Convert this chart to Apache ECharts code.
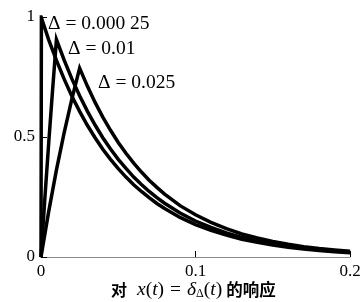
<!DOCTYPE html>
<html><head><meta charset="utf-8">
<script src="https://cdn.jsdelivr.net/npm/echarts@6/dist/echarts.min.js"></script>
<style>html,body{margin:0;padding:0;background:#fff}#c{width:364px;height:302px}</style>
</head><body><div id="c"></div>
<script>
const xTicks = [0, 0.1, 0.2];
const yTicks = [0, 0.5, 1];
const seriesNames = ['Δ = 0.000 25', 'Δ = 0.01', 'Δ = 0.025'];
const tA = [0, 0.00025, 0.005, 0.01, 0.015, 0.02, 0.025, 0.03, 0.035, 0.04, 0.045, 0.05, 0.055, 0.06, 0.065, 0.07, 0.075, 0.08, 0.09, 0.1, 0.11, 0.12, 0.13, 0.14, 0.15, 0.16, 0.17, 0.18, 0.19, 0.2];
const yA = [0, 0.997, 0.905, 0.819, 0.741, 0.670, 0.607, 0.549, 0.497, 0.449, 0.407, 0.368, 0.333, 0.301, 0.273, 0.247, 0.223, 0.202, 0.165, 0.135, 0.111, 0.091, 0.074, 0.061, 0.050, 0.041, 0.033, 0.027, 0.022, 0.018];
const tB = [0, 0.0025, 0.005, 0.0075, 0.01, 0.015, 0.02, 0.025, 0.03, 0.035, 0.04, 0.045, 0.05, 0.055, 0.06, 0.065, 0.07, 0.075, 0.08, 0.09, 0.1, 0.11, 0.12, 0.13, 0.14, 0.15, 0.16, 0.17, 0.18, 0.19, 0.2];
const yB = [0, 0.244, 0.476, 0.696, 0.906, 0.820, 0.742, 0.672, 0.608, 0.550, 0.497, 0.450, 0.407, 0.369, 0.333, 0.302, 0.273, 0.247, 0.224, 0.183, 0.150, 0.123, 0.100, 0.082, 0.067, 0.055, 0.045, 0.037, 0.030, 0.025, 0.020];
const tC = [0, 0.005, 0.01, 0.015, 0.02, 0.025, 0.03, 0.035, 0.04, 0.045, 0.05, 0.055, 0.06, 0.065, 0.07, 0.075, 0.08, 0.09, 0.1, 0.11, 0.12, 0.13, 0.14, 0.15, 0.16, 0.17, 0.18, 0.19, 0.2];
const yC = [0, 0.190, 0.363, 0.518, 0.659, 0.787, 0.712, 0.644, 0.583, 0.528, 0.477, 0.432, 0.391, 0.354, 0.320, 0.290, 0.262, 0.214, 0.176, 0.144, 0.118, 0.096, 0.079, 0.065, 0.053, 0.043, 0.035, 0.029, 0.024];
const pts = (t, y) => t.map((v, i) => [v, y[i]]);

const chart = echarts.init(document.getElementById('c'));
const serif = 'Liberation Serif, Times New Roman, serif';
const lineSeries = (name, data) => ({
  name, type: 'line', data, showSymbol: false, symbol: 'none', smooth: false,
  lineStyle: { color: '#000', width: 3.5, join: 'miter', cap: 'butt' },
  z: 3, animation: false
});
chart.setOption({
  animation: false,
  grid: { left: 41, right: 14, top: 17, bottom: 45, containLabel: false },
  xAxis: {
    type: 'value', min: xTicks[0], max: xTicks[xTicks.length - 1], interval: 0.1,
    axisLine: { show: true, lineStyle: { color: '#888', width: 1 } },
    axisTick: { show: true, inside: true, length: 6, lineStyle: { color: '#000' } },
    axisLabel: { color: '#000', fontFamily: serif, fontSize: 17, margin: 6,
      formatter: v => xTicks.includes(+v.toFixed(3)) ? String(+v.toFixed(3)) : '' },
    splitLine: { show: false }
  },
  yAxis: {
    type: 'value', min: yTicks[0], max: yTicks[yTicks.length - 1], interval: 0.5,
    axisLine: { show: true, lineStyle: { color: '#000', width: 1.5 } },
    axisTick: { show: true, inside: true, length: 6, lineStyle: { color: '#000' } },
    axisLabel: { color: '#000', fontFamily: serif, fontSize: 17, margin: 6,
      formatter: v => String(v) },
    splitLine: { show: false }
  },
  series: [
    lineSeries(seriesNames[0], pts(tA, yA)),
    lineSeries(seriesNames[1], pts(tB, yB)),
    lineSeries(seriesNames[2], pts(tC, yC))
  ],
  graphic: [
    { type: 'text', x: 48, y: 24, style: { text: seriesNames[0], font: '19.5px ' + serif, fill: '#000', verticalAlign: 'middle' } },
    { type: 'text', x: 68, y: 49, style: { text: seriesNames[1], font: '19.5px ' + serif, fill: '#000', verticalAlign: 'middle' } },
    { type: 'text', x: 98, y: 83, style: { text: seriesNames[2], font: '19.5px ' + serif, fill: '#000', verticalAlign: 'middle' } },
    { type: 'text', x: 111, y: 290, style: {
      verticalAlign: 'middle',
      text: '{c1|对}{i|x}{n|(}{i|t}{n|)}{e|=}{i|δ}{s|Δ}{n|(}{i|t}{n2|)}{c|的响应}',
      rich: {
        c1: { fontFamily: 'Noto Sans CJK SC', fontWeight: 'bold', fontSize: 16, fill: '#000', padding: [0, 10, 0, 0] },
        c: { fontFamily: 'Noto Sans CJK SC', fontWeight: 'bold', fontSize: 16.5, fill: '#000' },
        i: { fontFamily: serif, fontStyle: 'italic', fontSize: 19.5, fill: '#000' },
        n: { fontFamily: serif, fontSize: 19.5, fill: '#000' },
        n2: { fontFamily: serif, fontSize: 19.5, fill: '#000', padding: [0, 4, 0, 0] },
        e: { fontFamily: serif, fontSize: 19.5, fill: '#000', padding: [0, 6, 0, 6] },
        s: { fontFamily: serif, fontSize: 12, fill: '#000', verticalAlign: 'bottom', padding: [8, 0, 0, 0] }
      }
    } }
  ]
});
</script></body></html>
